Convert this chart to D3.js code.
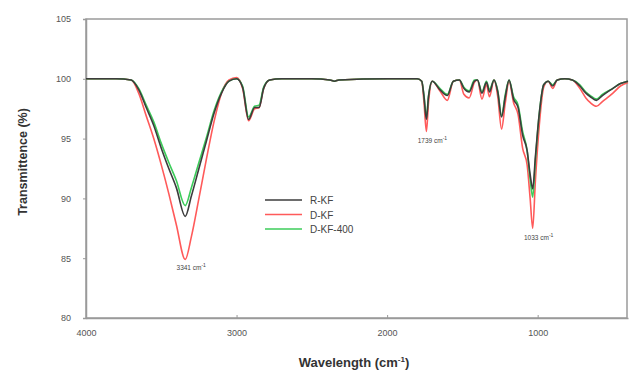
<!DOCTYPE html>
<html>
<head>
<meta charset="utf-8">
<script src="https://cdn.jsdelivr.net/npm/d3@7"></script>
<style>
  body { margin: 0; background: #fff; }
  svg { font-family: "Liberation Sans", Arial, sans-serif; }
</style>
</head>
<body>
<svg id="chart"></svg>
<script>
// wavenumbers (cm-1) shared by the three spectra
const wavenumbers = [4000, 3800, 3700, 3650, 3600, 3550, 3500, 3450, 3400, 3341, 3300, 3250, 3200, 3150, 3100, 3050, 3000,
  2960, 2920, 2880, 2850, 2820, 2780, 2700, 2500, 2380, 2350, 2320, 2000, 1800, 1770, 1755, 1739, 1725, 1700, 1650, 1600,
  1560, 1520, 1490, 1455, 1420, 1400, 1370, 1340, 1320, 1290, 1265, 1240, 1215, 1190, 1160, 1130, 1100, 1070, 1050, 1033,
  1015, 990, 960, 930, 900, 870, 820, 770, 720, 680, 650, 610, 570, 500, 450, 400];

const rkf = [100, 100, 99.9, 99.1, 97.6, 96.1, 94.2, 92.5, 90.9, 88.5, 90.2, 92.5, 94.8, 97.1, 98.8, 99.8, 100.0,
  99.3, 96.6, 97.6, 97.6, 99.2, 99.9, 100, 100, 99.9, 99.8, 99.9, 100, 100, 99.8, 98.5, 96.6, 98.5, 99.8, 99.1, 98.6,
  99.8, 99.9, 99.2, 98.9, 99.8, 99.9, 98.8, 99.7, 98.9, 99.9, 98.9, 96.8, 98.5, 99.9, 98.3, 97.6, 95.3, 94.0, 92.0, 90.8,
  93.5, 97.0, 99.5, 99.8, 99.4, 99.9, 100, 99.9, 99.4, 98.8, 98.5, 98.2, 98.6, 99.2, 99.6, 99.8];

const dkf = [100, 100, 99.9, 98.8, 96.9, 95.0, 92.8, 90.4, 87.8, 84.9, 86.8, 90.0, 93.3, 96.4, 98.8, 99.9, 100.1,
  99.2, 96.5, 97.5, 97.6, 99.2, 99.9, 100, 100, 99.9, 99.8, 99.9, 100, 100, 99.8, 98.0, 95.6, 98.0, 99.8, 99.0, 98.2,
  99.8, 99.9, 98.7, 98.4, 99.7, 99.9, 98.3, 99.5, 98.5, 99.9, 98.5, 95.8, 98.0, 99.8, 98.0, 97.0, 94.2, 92.8, 90.0, 87.5,
  91.5, 96.0, 99.3, 99.8, 99.2, 99.9, 100, 99.9, 99.2, 98.4, 98.0, 97.7, 98.1, 98.8, 99.4, 99.7];

const dkf400 = [100, 100, 99.9, 99.2, 97.8, 96.4, 94.6, 93.0, 91.5, 89.4, 90.9, 93.0, 95.1, 97.3, 98.9, 99.8, 100.0,
  99.4, 96.8, 97.7, 97.8, 99.3, 99.9, 100, 100, 99.9, 99.8, 99.9, 100, 100, 99.8, 98.6, 96.8, 98.6, 99.8, 99.2, 98.7,
  99.8, 99.9, 99.3, 99.0, 99.9, 99.9, 98.9, 99.8, 99.1, 99.9, 99.0, 96.9, 98.7, 99.9, 98.5, 97.8, 95.6, 94.0, 91.6, 90.1,
  93.2, 97.0, 99.5, 99.8, 99.5, 99.9, 100, 99.9, 99.5, 98.9, 98.6, 98.3, 98.7, 99.2, 99.6, 99.8];

const seriesNames = ["R-KF", "D-KF", "D-KF-400"];
const seriesColors = ["#3c3c3c", "#ff5a5a", "#3ccc5a"];
const xTicks = [4000, 3000, 2000, 1000];
const yTicks = [80, 85, 90, 95, 100, 105];
const peakLabels = [
  { wn: 3341, t: 85.0, text: "3341 cm" },
  { wn: 1739, t: 95.6, text: "1739 cm" },
  { wn: 1033, t: 87.5, text: "1033 cm" }
];

const width = 630, height = 374;
const svg = d3.select("#chart").attr("width", width).attr("height", height);

const x = d3.scaleLinear().domain([4000, 400]).range([86, 628]);
const y = d3.scaleLinear().domain([80, 105]).range([318, 19]);

const axisColor = "#9a9a9a";
const labelColor = "#555";

// frame
svg.append("rect")
  .attr("x", x(4000)).attr("y", y(105))
  .attr("width", x(400) - x(4000) - 1).attr("height", y(80) - y(105))
  .attr("fill", "none").attr("stroke", axisColor).attr("stroke-width", 1.5);

// axes
const xAxis = svg.append("g")
  .attr("transform", `translate(0,${y(80)})`)
  .call(d3.axisBottom(x).tickValues(xTicks).tickFormat(d3.format("d"))
    .tickSizeInner(-3).tickSizeOuter(0).tickPadding(12));
const yAxis = svg.append("g")
  .attr("transform", `translate(${x(4000)},0)`)
  .call(d3.axisLeft(y).tickValues(yTicks).tickSize(3).tickPadding(12));

[xAxis, yAxis].forEach(a => {
  a.select(".domain").attr("stroke", axisColor).attr("stroke-width", 1.5);
  a.selectAll(".tick line").attr("stroke", axisColor);
  a.selectAll(".tick text").attr("fill", labelColor).style("font-size", "9px");
});

// spectra (red under, black on top)
const line = d3.line()
  .x(d => x(d[0]))
  .y(d => y(d[1]))
  .curve(d3.curveMonotoneX);

const allSeries = [rkf, dkf, dkf400];
[1, 2, 0].forEach(i => {
  const pts = wavenumbers.map((w, k) => [w, allSeries[i][k]]);
  svg.append("path")
    .datum(pts)
    .attr("fill", "none")
    .attr("stroke", seriesColors[i])
    .attr("stroke-width", 1.6)
    .attr("stroke-linejoin", "round")
    .attr("d", line);
});

// peak annotations
peakLabels.forEach(p => {
  const t = svg.append("text")
    .attr("x", x(p.wn) + 6)
    .attr("y", y(p.t) + 12)
    .attr("text-anchor", "middle")
    .attr("fill", "#444")
    .style("font-size", "6.5px")
    .text(p.text);
  t.append("tspan").attr("dy", -3).style("font-size", "5px").text("-1");
});

// legend
const legend = svg.append("g").attr("transform", "translate(265,200)");
seriesNames.forEach((n, i) => {
  const g = legend.append("g").attr("transform", `translate(0,${i * 14.5})`);
  g.append("line").attr("x1", 0).attr("x2", 37)
    .attr("stroke", seriesColors[i]).attr("stroke-width", 1.5);
  g.append("text").attr("x", 45).attr("y", 4)
    .attr("fill", "#444").style("font-size", "10px").text(n);
});

// axis titles
svg.append("text")
  .attr("transform", "translate(27,162) rotate(-90)")
  .attr("text-anchor", "middle")
  .attr("fill", "#333")
  .style("font-size", "12.5px").style("font-weight", "bold")
  .text("Transmittence (%)");

const xt = svg.append("text")
  .attr("x", 354).attr("y", 367)
  .attr("text-anchor", "middle")
  .attr("fill", "#333")
  .style("font-size", "13px").style("font-weight", "bold")
  .text("Wavelength (cm");
xt.append("tspan").attr("dy", -5).style("font-size", "8px").text("-1");
xt.append("tspan").attr("dy", 5).text(")");
</script>
</body>
</html>
